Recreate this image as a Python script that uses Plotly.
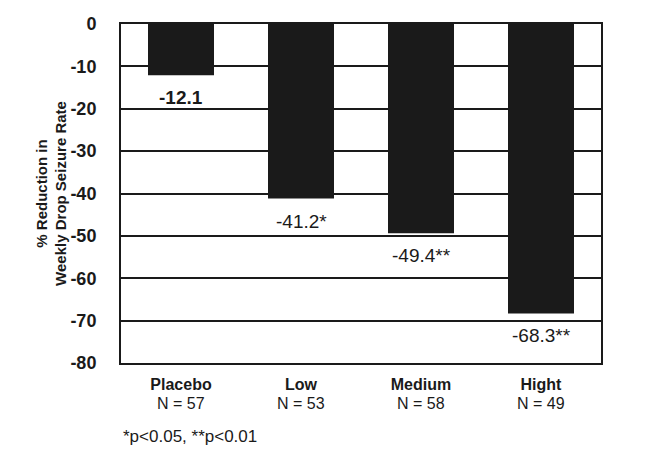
import plotly.graph_objects as go

categories = ["Placebo", "Low", "Medium", "Hight"]
n_values = [57, 53, 58, 49]
values = [-12.1, -41.2, -49.4, -68.3]
value_labels = ["<b>-12.1</b>", "-41.2*", "-49.4**", "-68.3**"]
y_ticks = [0, -10, -20, -30, -40, -50, -60, -70, -80]

FONT = "Liberation Sans, Arial, sans-serif"
INK = "#1a1a1a"

fig = go.Figure()
fig.add_trace(go.Bar(
    x=categories, y=values,
    marker=dict(color=INK, line=dict(width=0)),
    width=0.55,
))

for c, v, t in zip(categories, values, value_labels):
    fig.add_annotation(x=c, y=v, text=t, showarrow=False, yanchor="top",
                       yshift=-10, font=dict(family=FONT, size=19, color=INK))

for c, n in zip(categories, n_values):
    fig.add_annotation(x=c, y=-0.12, yref="paper", text=f"N = {n}",
                       showarrow=False, yanchor="middle",
                       font=dict(family=FONT, size=16, color=INK))

fig.update_layout(
    width=651, height=450,
    margin=dict(l=113, r=58, t=16, b=95),
    paper_bgcolor="white", plot_bgcolor="white",
    showlegend=False,
    font=dict(family=FONT, color=INK),
    xaxis=dict(
        tickmode="array", tickvals=categories,
        ticktext=[f"<b>{c}</b>" for c in categories],
        tickfont=dict(family=FONT, size=16, color=INK),
        showgrid=False, ticks="", showline=True, linecolor=INK,
        linewidth=2, mirror=True, range=[-0.5, 3.5], ticklabelstandoff=6,
        automargin=False,
    ),
    yaxis=dict(
        range=[-80, 0], tickmode="array", tickvals=y_ticks,
        ticktext=[f"<b>{t}</b>" for t in y_ticks],
        tickfont=dict(family=FONT, size=18, color=INK),
        showgrid=True, gridcolor=INK, gridwidth=2,
        zeroline=False, showline=True, linecolor=INK, linewidth=2,
        mirror=True, ticks="", ticklen=0, ticklabelstandoff=19,
        automargin=False,
        title=dict(text="<b>% Reduction in<br>Weekly Drop Seizure Rate</b>",
                   font=dict(family=FONT, size=15, color=INK), standoff=0),
    ),
)

fig.add_annotation(x=0, xref="paper", y=-0.218, yref="paper",
                   text="*p<0.05, **p<0.01", showarrow=False,
                   xanchor="left", yanchor="middle",
                   font=dict(family=FONT, size=17, color=INK))

fig.write_html("out.html")
